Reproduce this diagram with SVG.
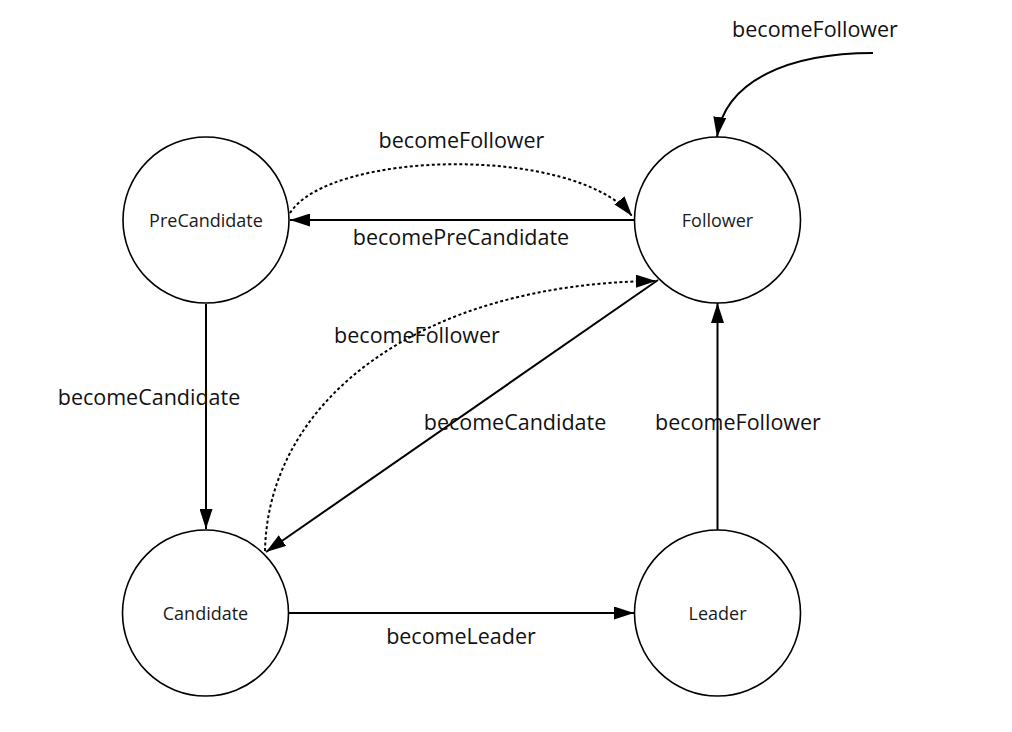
<svg xmlns="http://www.w3.org/2000/svg" width="1012" height="732" viewBox="0 0 1012 732">
<defs>
<marker id="arr" viewBox="0 0 20 13" markerWidth="20" markerHeight="13" markerUnits="userSpaceOnUse" refX="20" refY="6.5" orient="auto">
<path d="M0,0 L20,6.5 L0,13 z" fill="#000"/>
</marker>
</defs>
<style>
.node circle { fill: #fff; stroke: #000; stroke-width: 1.6; }
.node text { font-family: "Open Sans", "Noto Sans", sans-serif; font-size: 18px; fill: #1a1a1a; text-anchor: middle; }
.edge { fill: none; stroke: #000; stroke-width: 2; marker-end: url(#arr); }
.dot { stroke-dasharray: 3 2.5; }
.lbl { font-family: "Open Sans", "Noto Sans", sans-serif; font-size: 21.5px; fill: #111; text-anchor: middle; }
</style>
<rect width="1012" height="732" fill="#fff"/>
<g id="connectors">
<path class="edge" d="M873,53 C790,53 725,80 717,137"/>
<path class="edge dot" d="M290,213 C330,150 575,145 632,216"/>
<path class="edge" d="M635,220 L290,220"/>
<path class="edge" d="M206,304 L206,529"/>
<path class="edge" d="M658,280 L266,552"/>
<path class="edge dot" d="M265,551 C268,400 420,283 656,281"/>
<path class="edge" d="M717.5,530 L717.5,303"/>
<path class="edge" d="M289,613 L634,613"/>
</g>
<g id="labels">
<text class="lbl" x="815" y="37">becomeFollower</text>
<text class="lbl" x="461.5" y="147.5">becomeFollower</text>
<text class="lbl" x="461" y="245">becomePreCandidate</text>
<text class="lbl" x="417" y="343">becomeFollower</text>
<text class="lbl" x="149" y="405">becomeCandidate</text>
<text class="lbl" x="515" y="429.5">becomeCandidate</text>
<text class="lbl" x="738" y="430">becomeFollower</text>
<text class="lbl" x="461" y="643.5">becomeLeader</text>
</g>
<g id="node-precandidate" class="node">
<circle cx="206" cy="220" r="83"/>
<text x="206" y="226.7">PreCandidate</text>
</g>
<g id="node-follower" class="node">
<circle cx="717.5" cy="220" r="83"/>
<text x="717.5" y="226.7">Follower</text>
</g>
<g id="node-candidate" class="node">
<circle cx="205.5" cy="613" r="83"/>
<text x="205.5" y="620">Candidate</text>
</g>
<g id="node-leader" class="node">
<circle cx="717.5" cy="613" r="83"/>
<text x="717.5" y="620">Leader</text>
</g>
</svg>
